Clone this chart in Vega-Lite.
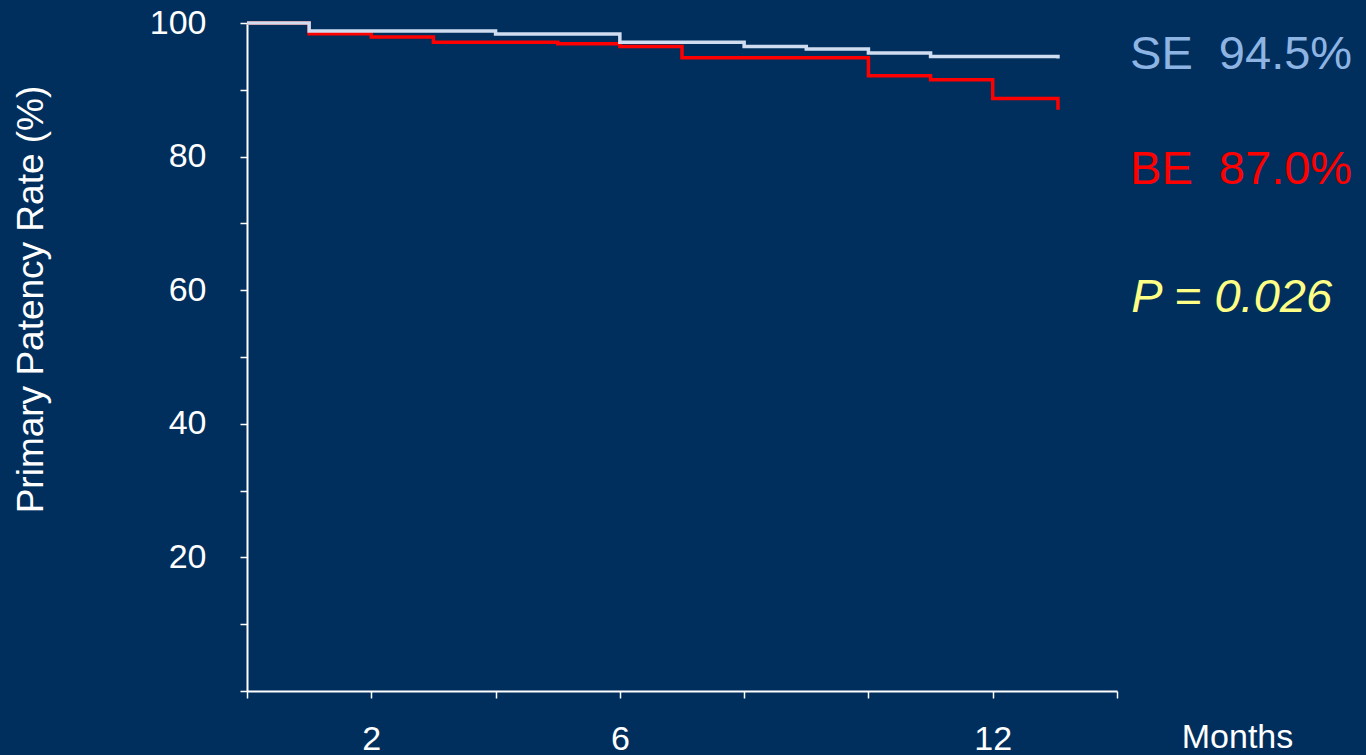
{
  "$schema": "https://vega.github.io/schema/vega-lite/v6.json",
  "width": 870,
  "height": 668,
  "autosize": {"type": "none"},
  "padding": {"left": 247, "top": 23, "right": 249, "bottom": 64},
  "background": "#002F5E",
  "config": {
    "view": {"stroke": null},
    "font": "Liberation Sans",
    "axis": {
      "grid": false,
      "domainColor": "#FFFFFF",
      "domainWidth": 2,
      "tickColor": "#FFFFFF",
      "tickWidth": 1.5,
      "tickSize": 7,
      "labelColor": "#FFFFFF",
      "labelFontSize": 34,
      "labelFont": "Liberation Sans",
      "titleColor": "#FFFFFF",
      "titleFont": "Liberation Sans",
      "titleFontWeight": "normal",
      "labelOverlap": false,
      "labelFlush": false
    }
  },
  "datasets": {
    "curves": [
      {"group": "BE", "month": 0, "rate": 100},
      {"group": "BE", "month": 1, "rate": 98.4},
      {"group": "BE", "month": 2, "rate": 97.9},
      {"group": "BE", "month": 3, "rate": 97.1},
      {"group": "BE", "month": 5, "rate": 96.9},
      {"group": "BE", "month": 6, "rate": 96.5},
      {"group": "BE", "month": 7, "rate": 94.8},
      {"group": "BE", "month": 10, "rate": 92.1},
      {"group": "BE", "month": 11, "rate": 91.5},
      {"group": "BE", "month": 12, "rate": 88.7},
      {"group": "BE", "month": 13.05, "rate": 87.0},
      {"group": "SE", "month": 0, "rate": 100},
      {"group": "SE", "month": 1, "rate": 98.8},
      {"group": "SE", "month": 4, "rate": 98.35},
      {"group": "SE", "month": 6, "rate": 97.1},
      {"group": "SE", "month": 8, "rate": 96.5},
      {"group": "SE", "month": 9, "rate": 96.1},
      {"group": "SE", "month": 10, "rate": 95.5},
      {"group": "SE", "month": 11, "rate": 95.0},
      {"group": "SE", "month": 13.05, "rate": 94.7}
    ],
    "notes": [
      {"key": "SE", "text": "SE\u00a0\u00a094.5%"},
      {"key": "BE", "text": "BE\u00a0\u00a087.0%"},
      {"key": "P", "text": "P = 0.026"}
    ]
  },
  "layer": [
    {
      "data": {"name": "curves"},
      "mark": {"type": "line", "interpolate": "step-after", "strokeWidth": 3.5, "clip": false},
      "encoding": {
        "x": {
          "field": "month",
          "type": "quantitative",
          "scale": {"domain": [0, 14], "nice": false, "zero": false},
          "axis": {
            "title": "Months",
            "format": "d",
            "values": [0, 2, 4, 6, 8, 10, 12, 14],
            "labelExpr": "indexof([2, 6, 12], datum.value) >= 0 ? datum.label : ''",
            "labelPadding": 24,
            "titleFontSize": 34,
            "titleX": 990,
            "titleY": 56,
            "titleAlign": "center",
            "titleBaseline": "alphabetic"
          }
        },
        "y": {
          "field": "rate",
          "type": "quantitative",
          "scale": {"domain": [0, 100], "nice": false},
          "axis": {
            "title": "Primary Patency Rate (%)",
            "format": "d",
            "values": [0, 10, 20, 30, 40, 50, 60, 70, 80, 90, 100],
            "labelExpr": "datum.value % 20 === 0 && datum.value > 0 ? datum.label : ''",
            "labelPadding": 34,
            "labelBaseline": "middle",
            "titleFontSize": 37,
            "titleAngle": -90,
            "titleX": -205,
            "titleY": 276,
            "titleAlign": "center",
            "titleBaseline": "alphabetic"
          }
        },
        "color": {
          "field": "group",
          "type": "nominal",
          "scale": {"domain": ["BE", "SE"], "range": ["#FF0000", "#D0DDF0"]},
          "legend": null
        }
      }
    },
    {
      "data": {"name": "notes"},
      "transform": [{"filter": "datum.key === 'SE'"}],
      "mark": {"type": "text", "align": "left", "baseline": "alphabetic", "fontSize": 47, "color": "#8EB4E3", "font": "Liberation Sans"},
      "encoding": {
        "x": {"datum": 14.21, "type": "quantitative"},
        "y": {"datum": 93.1, "type": "quantitative"},
        "text": {"field": "text"}
      }
    },
    {
      "data": {"name": "notes"},
      "transform": [{"filter": "datum.key === 'BE'"}],
      "mark": {"type": "text", "align": "left", "baseline": "alphabetic", "fontSize": 47, "color": "#FF0000", "font": "Liberation Sans"},
      "encoding": {
        "x": {"datum": 14.21, "type": "quantitative"},
        "y": {"datum": 75.9, "type": "quantitative"},
        "text": {"field": "text"}
      }
    },
    {
      "data": {"name": "notes"},
      "transform": [{"filter": "datum.key === 'P'"}],
      "mark": {"type": "text", "align": "left", "baseline": "alphabetic", "fontSize": 47, "fontStyle": "italic", "color": "#FFFF85", "font": "Liberation Sans"},
      "encoding": {
        "x": {"datum": 14.23, "type": "quantitative"},
        "y": {"datum": 56.7, "type": "quantitative"},
        "text": {"field": "text"}
      }
    }
  ]
}
